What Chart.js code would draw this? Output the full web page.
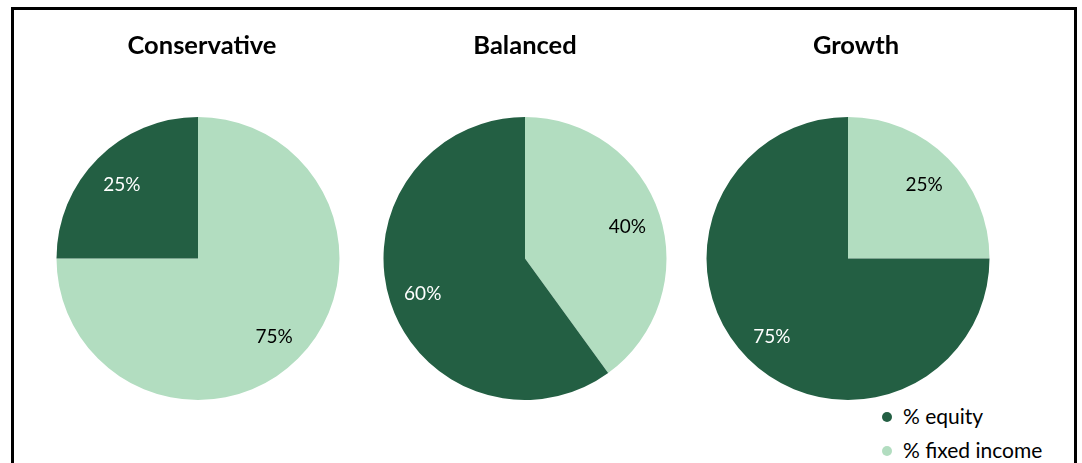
<!DOCTYPE html>
<html>
<head>
<meta charset="utf-8">
<script src="https://cdn.jsdelivr.net/npm/chart.js@4"></script>
<style>
  html, body { margin: 0; padding: 0; background: #fff; width: 1082px; height: 463px; overflow: hidden; font-family: Lato, "Open Sans", sans-serif; }
  .frame { position: absolute; left: 11px; top: 7px; width: 1060px; height: 480px; border: 3px solid #000; box-sizing: content-box; }
  .box { position: absolute; top: 0; height: 400px; width: 320px; }
  .legend { position: absolute; left: 878px; top: 401px; font-family: Lato, sans-serif; font-size: 21px; color: #000; }
  .legend .item { position: relative; height: 34px; line-height: 30px; padding-left: 25px; white-space: nowrap; }
  .legend .dot { position: absolute; left: 4px; top: 11px; width: 10px; height: 10px; border-radius: 50%; }
</style>
</head>
<body>
<div class="frame"></div>
<div class="box" style="left:38px"><canvas id="c0"></canvas></div>
<div class="box" style="left:365px"><canvas id="c1"></canvas></div>
<div class="box" style="left:688px"><canvas id="c2"></canvas></div>
<div class="legend" id="legend"></div>
<script>
// ---- data ----
const portfolios = ["Conservative", "Balanced", "Growth"];
const sliceLabels = ["% fixed income", "% equity"];
const fixedIncome = [75, 40, 25];
const equity = [25, 60, 75];
const legendOrder = ["% equity", "% fixed income"];

// ---- styles ----
const COLORS = { "% fixed income": "#B2DDC0", "% equity": "#235F43" };
const LABEL_COLORS = { "% fixed income": "#000000", "% equity": "#FFFFFF" };
const titleShift = [4, 0, 8];

const pctLabels = {
  id: "pctLabels",
  afterDatasetsDraw(chart) {
    const ctx = chart.ctx;
    const meta = chart.getDatasetMeta(0);
    const ds = chart.data.datasets[0];
    ctx.save();
    ctx.font = "19px Lato, sans-serif";
    ctx.textAlign = "center";
    ctx.textBaseline = "middle";
    meta.data.forEach((arc, i) => {
      const p = arc.getProps(["x", "y", "startAngle", "endAngle", "outerRadius"], true);
      const mid = (p.startAngle + p.endAngle) / 2;
      const r = p.outerRadius * 0.76;
      ctx.fillStyle = LABEL_COLORS[chart.data.labels[i]];
      ctx.fillText(ds.data[i] + "%", p.x + Math.cos(mid) * r, p.y + Math.sin(mid) * r + 2);
    });
    ctx.restore();
  }
};

const shiftTitle = {
  id: "shiftTitle",
  afterLayout(chart) {
    const s = chart.options.titleShift || 0;
    if (chart.titleBlock) { chart.titleBlock.left += s; chart.titleBlock.right += s; }
  }
};

portfolios.forEach((name, k) => {
  new Chart(document.getElementById("c" + k), {
    type: "pie",
    data: {
      labels: sliceLabels,
      datasets: [{
        data: [fixedIncome[k], equity[k]],
        backgroundColor: sliceLabels.map(l => COLORS[l]),
        borderWidth: 0
      }]
    },
    options: {
      responsive: true,
      maintainAspectRatio: false,
      animation: false,
      rotation: 0,
      titleShift: titleShift[k],
      plugins: {
        legend: { display: false },
        tooltip: { enabled: false },
        title: {
          display: true,
          text: name,
          color: "#000",
          font: { family: "Lato, sans-serif", size: 25.5, weight: "bold" },
          padding: { top: 30, bottom: 56.4 }
        }
      }
    },
    plugins: [pctLabels, shiftTitle]
  });
});

// legend
const lg = document.getElementById("legend");
legendOrder.forEach(l => {
  const d = document.createElement("div");
  d.className = "item";
  d.innerHTML = '<span class="dot" style="background:' + COLORS[l] + '"></span>' + l;
  lg.appendChild(d);
});
</script>
</body>
</html>
